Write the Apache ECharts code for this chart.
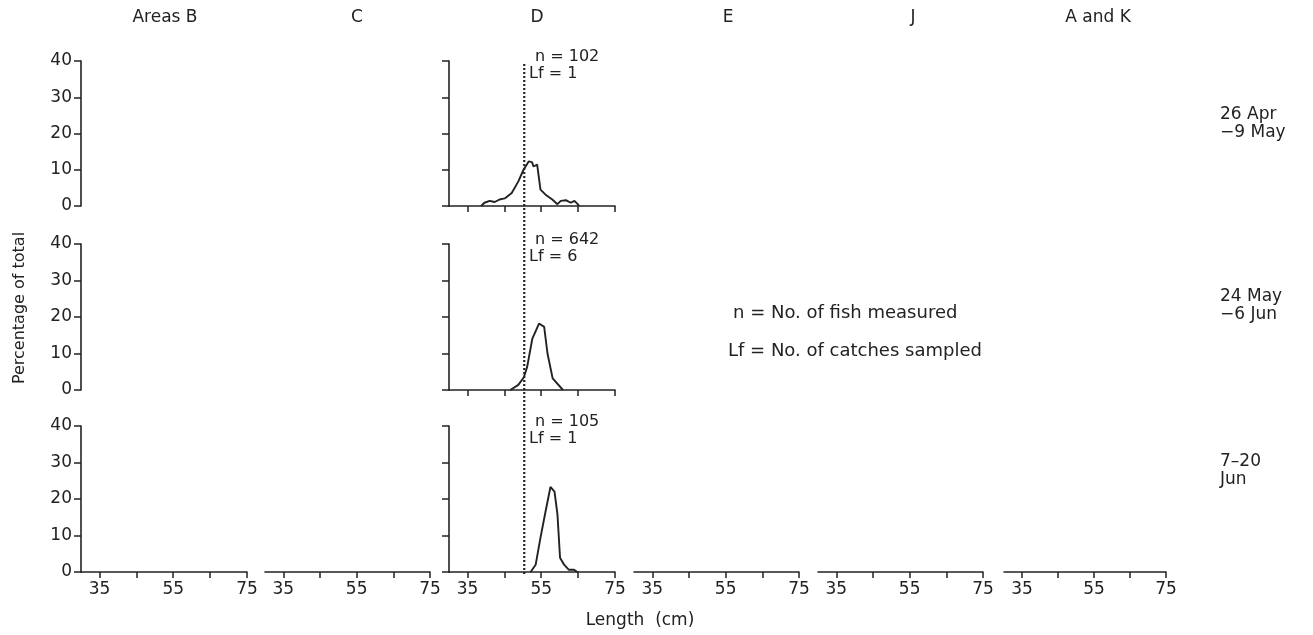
<!DOCTYPE html>
<html>
<head>
<meta charset="utf-8">
<script src="https://cdn.jsdelivr.net/npm/echarts@6/dist/echarts.min.js"></script>
<style>
html,body{margin:0;padding:0;background:#fff;}
#chart{width:1313px;height:635px;}
</style>
</head>
<body>
<div id="chart"></div>
<script>
// ---------------- data ----------------
const areaNames = ['Areas B', 'C', 'D', 'E', 'J', 'A and K'];
const periodLabels = ['26 Apr\n\u22129 May', '24 May\n\u22126 Jun', '7\u201320\nJun'];
const xTicks = [35, 45, 55, 65, 75];
const xTickLabels = [35, 55, 75];
const yTicks = [0, 10, 20, 30, 40];
const minLength = 30;
const maxLength = 75;
const refLength = 50.4;

// Area D, period 1 (n = 102, Lf = 1)
const lenP1 = [38.7, 39.6, 41.0, 42.4, 43.7, 45.1, 47.0, 48.8, 50.2, 51.6, 52.5, 52.9, 53.9, 54.8, 56.1, 58.0, 59.4, 60.3, 61.7, 63.0, 64.0, 64.9, 65.3];
const pctP1 = [0, 0.9, 1.4, 1.1, 1.8, 2.1, 3.6, 6.8, 10.0, 12.3, 12.1, 10.9, 11.4, 4.5, 3.2, 1.8, 0.5, 1.4, 1.6, 0.9, 1.4, 0.5, 0];
// Area D, period 2 (n = 642, Lf = 6)
const lenP2 = [46.6, 48.8, 50.3, 51.2, 52.6, 54.4, 55.8, 56.7, 58.1, 60.9];
const pctP2 = [0, 1.4, 3.5, 6.4, 14.1, 18.2, 17.3, 10.0, 3.2, 0];
// Area D, period 3 (n = 105, Lf = 1)
const lenP3 = [52.1, 53.5, 54.8, 56.2, 57.5, 58.6, 59.4, 60.1, 61.2, 62.5, 63.9, 64.8];
const pctP3 = [0, 2.0, 9.4, 16.7, 23.3, 22.0, 15.8, 3.9, 2.0, 0.6, 0.6, 0];

const nFish = [102, 642, 105];
const nCatches = [1, 6, 1];

// ---------------- layout ----------------
const FONT = 'DejaVu Sans';
const INK = '#222';
const colX = [[81, 247], [265, 430], [449, 615], [634, 799], [818, 983], [1004, 1166]];
const rowY = [[61, 206], [244, 390], [426, 572]];

// panels: [row, col, showY, showYLabels, showX, showXLabels]
const panels = [
  [0, 0, true, true, false, false],
  [1, 0, true, true, false, false],
  [2, 0, true, true, true, true],
  [0, 2, true, false, true, false],
  [1, 2, true, false, true, false],
  [2, 2, true, false, true, true],
  [2, 1, false, false, true, true],
  [2, 3, false, false, true, true],
  [2, 4, false, false, true, true],
  [2, 5, false, false, true, true]
];

const zip = (a, b) => a.map((v, i) => [v, b[i]]);
const curves = {'0,2': zip(lenP1, pctP1), '1,2': zip(lenP2, pctP2), '2,2': zip(lenP3, pctP3)};

const grids = [], xAxes = [], yAxes = [], series = [];
const axisLine = {show: true, lineStyle: {color: INK, width: 1.6}};

panels.forEach((p, i) => {
  const [r, c, sy, syl, sx, sxl] = p;
  grids.push({left: colX[c][0], width: colX[c][1] - colX[c][0], top: rowY[r][0], height: rowY[r][1] - rowY[r][0]});
  xAxes.push({
    type: 'value', gridIndex: i, min: minLength, max: maxLength, show: sx,
    axisLine: axisLine, splitLine: {show: false},
    axisTick: {show: true, length: 6, lineStyle: {color: INK, width: 1.5}, customValues: xTicks},
    axisLabel: {show: sxl, customValues: xTickLabels, margin: 9, color: INK, fontFamily: FONT, fontSize: 17}
  });
  yAxes.push({
    type: 'value', gridIndex: i, min: 0, max: 40, interval: 10, show: sy,
    axisLine: axisLine, splitLine: {show: false},
    axisTick: {show: true, length: 7, lineStyle: {color: INK, width: 1.5}, customValues: yTicks},
    axisLabel: {show: syl, margin: 9, color: INK, fontFamily: FONT, fontSize: 17}
  });
  const key = r + ',' + c;
  if (curves[key]) {
    series.push({
      type: 'line', xAxisIndex: i, yAxisIndex: i, data: curves[key],
      showSymbol: false, symbol: 'none', silent: true,
      lineStyle: {color: INK, width: 1.9}
    });
  }
});

// overlay grid for the dotted reference line across area D
const ov = grids.length;
grids.push({left: colX[2][0], width: colX[2][1] - colX[2][0], top: 63, height: 511});
xAxes.push({type: 'value', gridIndex: ov, min: minLength, max: maxLength, show: false});
yAxes.push({type: 'value', gridIndex: ov, min: 0, max: 1, show: false});
series.push({
  type: 'line', xAxisIndex: ov, yAxisIndex: ov, data: [[refLength, 0], [refLength, 1]],
  showSymbol: false, symbol: 'none', silent: true,
  lineStyle: {color: INK, width: 2.2, type: [2, 2]}
});

// texts
const graphics = [];
const f = (s) => s + 'px "' + FONT + '"';
const titleX = [165, 357, 537, 728, 913, 1098];
areaNames.forEach((t, i) => graphics.push({
  type: 'text', x: titleX[i], y: 18,
  style: {text: t, font: f(17), fill: INK, textAlign: 'center', textVerticalAlign: 'middle'}
}));
const perY = [124, 306, 471];
periodLabels.forEach((t, i) => graphics.push({
  type: 'text', x: 1220, y: perY[i],
  style: {text: t, font: f(17), fill: INK, textAlign: 'left', textVerticalAlign: 'middle', lineHeight: 18}
}));
const annY = [57, 240, 422];
nFish.forEach((n, i) => {
  graphics.push({type: 'text', x: 535, y: annY[i],
    style: {text: 'n = ' + n, font: f(16), fill: INK, textAlign: 'left', textVerticalAlign: 'middle'}});
  graphics.push({type: 'text', x: 529, y: annY[i] + 17,
    style: {text: 'Lf = ' + nCatches[i], font: f(16), fill: INK, textAlign: 'left', textVerticalAlign: 'middle'}});
});
graphics.push({type: 'text', x: 733, y: 313,
  style: {text: 'n = No. of fish measured', font: f(18), fill: INK, textVerticalAlign: 'middle'}});
graphics.push({type: 'text', x: 728, y: 351,
  style: {text: 'Lf = No. of catches sampled', font: f(18), fill: INK, textVerticalAlign: 'middle'}});
graphics.push({type: 'text', x: 640, y: 621,
  style: {text: 'Length  (cm)', font: f(17), fill: INK, textAlign: 'center', textVerticalAlign: 'middle'}});
graphics.push({type: 'text', x: 20, y: 308, rotation: Math.PI / 2,
  style: {text: 'Percentage of total', font: f(16), fill: INK, textAlign: 'center', textVerticalAlign: 'middle'}});

const chart = echarts.init(document.getElementById('chart'), null, {renderer: 'canvas'});
chart.setOption({
  animation: false,
  backgroundColor: '#fff',
  grid: grids, xAxis: xAxes, yAxis: yAxes, series: series,
  graphic: graphics
});
</script>
</body>
</html>
